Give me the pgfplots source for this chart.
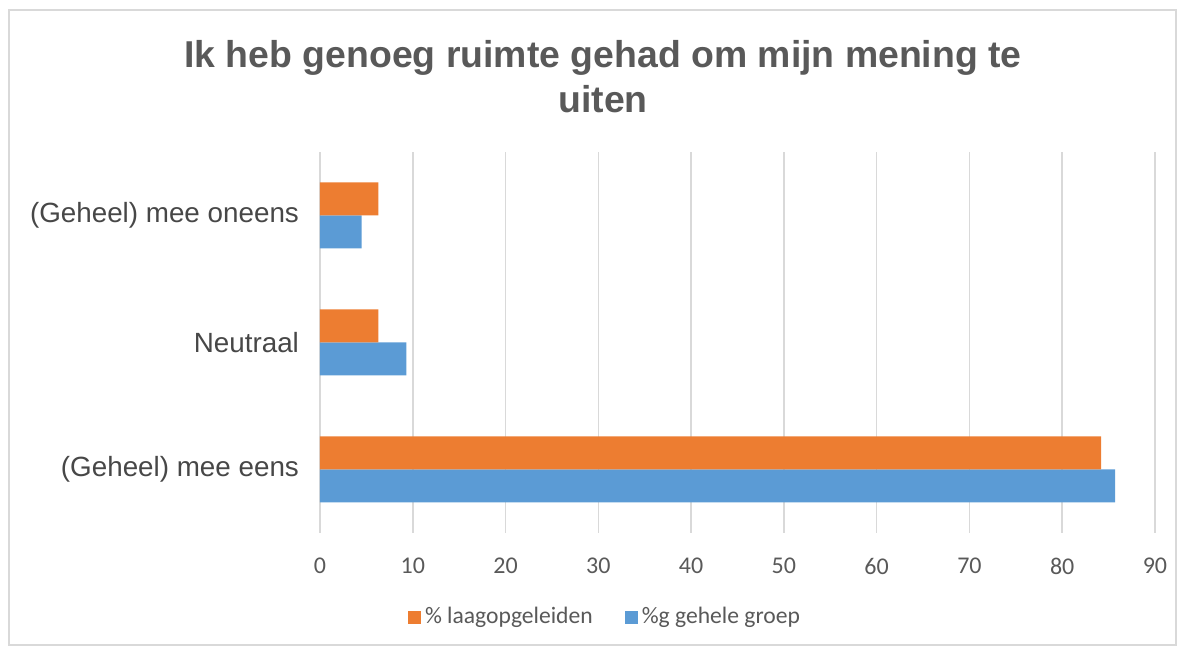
\documentclass[border=0pt]{standalone}
\usepackage{pgfplots}
\pgfplotsset{compat=1.18}
\usepackage{fontspec}
\setmainfont{Liberation Sans}
\newfontfamily\calibri{Carlito}

\definecolor{xlorange}{HTML}{ED7D31}
\definecolor{xlblue}{HTML}{5B9BD5}
\definecolor{xlgrid}{HTML}{D9D9D9}
\definecolor{xltext}{HTML}{595959}

\begin{document}
\begin{tikzpicture}
% 1 px of the reference = 0.5pt, axis lower left at pixel (320,533)
\path[use as bounding box] (-160pt,-57.5pt) rectangle (432pt,266.5pt);
\draw[xlgrid, line width=0.8pt] (-155.5pt,-56pt) rectangle (428pt,261.5pt);

\begin{axis}[
    at={(0pt,0pt)}, anchor=south west,
    scale only axis,
    width=417.5pt, height=190.5pt,
    xbar=0pt,
    bar width=16.5pt,
    xmin=0, xmax=90,
    ymin=-0.5, ymax=2.5,
    xtick={0,10,...,90},
    ytick={0,1,2},
    yticklabels={(Geheel) mee eens, Neutraal, (Geheel) mee oneens},
    xmajorgrids,
    grid style={xlgrid, line width=0.8pt},
    axis line style={draw=none},
    major tick length=0pt,
    /pgf/number format/assume math mode=true,
    xticklabel style={font=\calibri\fontsize{12}{14}\selectfont, text=xltext, yshift=-9pt},
    yticklabel style={font=\fontsize{13.9}{16}\selectfont, text=xltext!80!black, xshift=-7pt},
    legend style={at={(0.3425,-0.2205)}, anchor=center, draw=none,
        font=\calibri\fontsize{11.8}{14}\selectfont, text=xltext,
        legend columns=2, /tikz/every even column/.append style={column sep=14pt}},
    legend image code/.code={\fill[#1] (0pt,-3.25pt) rectangle (6.5pt,3.25pt);},
    reverse legend,
]
\addplot[fill=xlblue, draw=none] coordinates {(85.7,0) (9.3,1) (4.5,2)};
\addlegendentry{\%g gehele groep}
\addplot[fill=xlorange, draw=none] coordinates {(84.2,0) (6.3,1) (6.3,2)};
\addlegendentry{\% laagopgeleiden}
\end{axis}

\node[align=center, text=xltext, font=\bfseries\fontsize{18.7}{22.5}\selectfont]
    at (141.5pt,228pt) {Ik heb genoeg ruimte gehad om mijn mening te\\uiten};
\end{tikzpicture}
\end{document}
